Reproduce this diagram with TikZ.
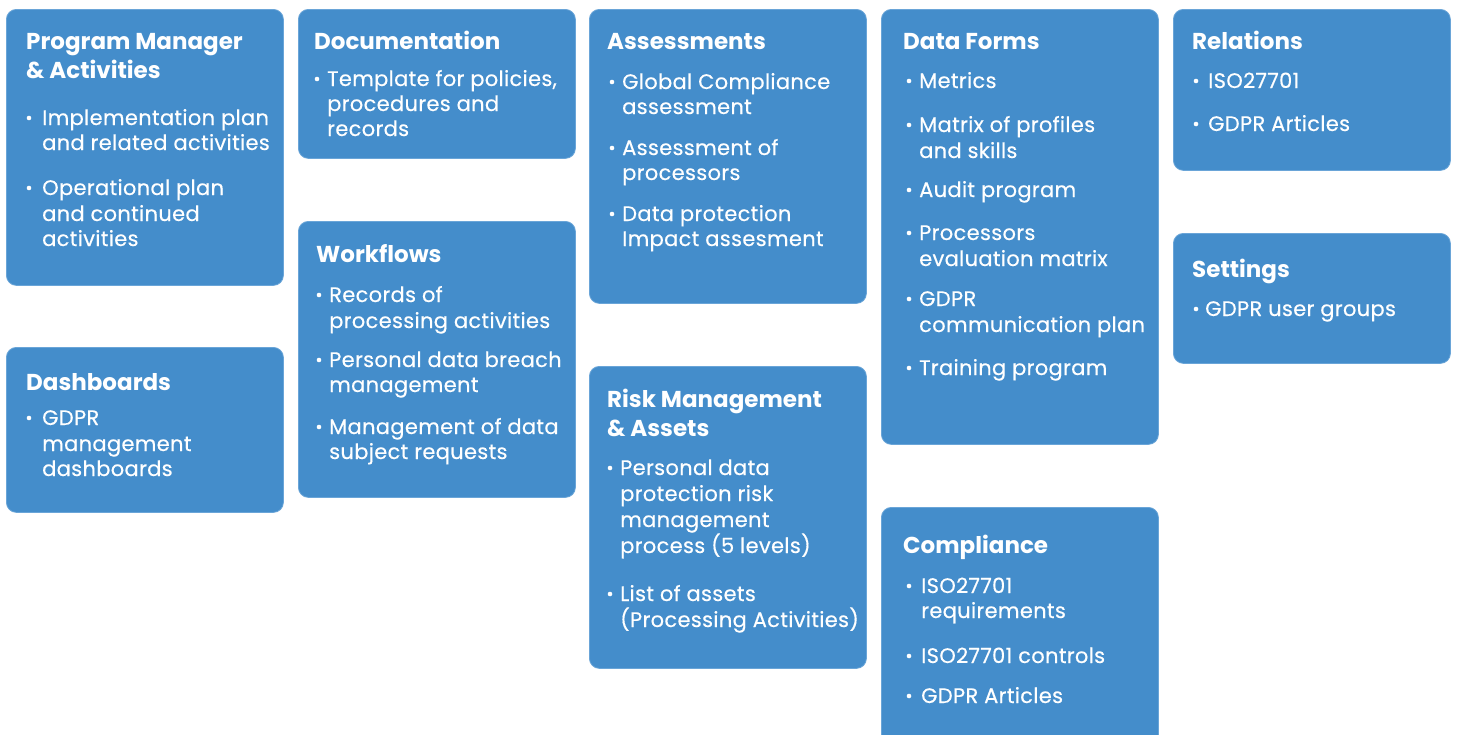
\documentclass[tikz,border=0pt]{standalone}
\usepackage{fontspec}
\setmainfont{Poppins}
\newfontfamily\bodyfont{Poppins}[FakeBold=0.35, LetterSpace=1.5]
\definecolor{boxblue}{HTML}{448DCB}
\definecolor{boxedge}{HTML}{6AA5D8}
\newcommand\tline[4]{\node[ttl] (#1) at (#2,#3) {#4};}
\newcommand\bline[4]{\node[body] (#1) at (#2,#3) {#4};}
\newcommand\bdot[2]{\fill[white] (#1,#2) circle (2.3pt);}
\tikzset{
  box/.style={draw=boxedge, line width=0.8pt, fill=boxblue, rounded corners=10pt, anchor=north west, inner sep=0pt, minimum width=277pt},
  ttl/.style={anchor=base west, inner sep=0pt, text=white, font=\fontsize{23}{23}\selectfont\bfseries},
  body/.style={anchor=base west, inner sep=0pt, text=white, font=\bodyfont\fontsize{21}{21}\selectfont},
}
\begin{document}
\begin{tikzpicture}[x=1pt,y=-1pt]
\useasboundingbox (0,0) rectangle (1458,734);
\clip (0,0) rectangle (1458,734);
\fill[white] (0,0) rectangle (1458,734);
% boxes
\node[box, minimum height=276pt] (b1) at (6,9) {};
\node[box, minimum height=165pt] (b2) at (6,347) {};
\node[box, minimum height=149pt] (b3) at (298,9) {};
\node[box, minimum height=276pt] (b4) at (298,221) {};
\node[box, minimum height=294pt] (b5) at (589,9) {};
\node[box, minimum height=302pt] (b6) at (589,366) {};
\node[box, minimum height=435pt] (b7) at (881,9) {};
\node[box, minimum height=250pt] (b8) at (881,507) {};
\node[box, minimum height=161pt] (b9) at (1173,9) {};
\node[box, minimum height=130pt] (b10) at (1173,233) {};
% b1
\tline{b1t1}{26}{49}{Program Manager}
\tline{b1t2}{26}{78}{\& Activities}
\bdot{29}{118}\bdot{29}{188}
\bline{b1l1}{42}{125}{Implementation plan}
\bline{b1l2}{42}{150}{and related activities}
\bline{b1l3}{42}{195}{Operational plan}
\bline{b1l4}{42}{221}{and continued}
\bline{b1l5}{42}{246}{activities}
% b2
\tline{b2t1}{26}{390}{Dashboards}
\bdot{29}{418}
\bline{b2l1}{42}{425}{GDPR}
\bline{b2l2}{42}{451}{management}
\bline{b2l3}{42}{476}{dashboards}
% b3
\tline{b3t1}{314}{49}{Documentation}
\bdot{317}{79}
\bline{b3l1}{327}{86}{Template for policies,}
\bline{b3l2}{327}{111}{procedures and}
\bline{b3l3}{327}{136}{records}
% b4
\tline{b4t1}{316}{262}{Workflows}
\bdot{319}{295}\bdot{319}{360}\bdot{319}{427}
\bline{b4l1}{329}{302}{Records of}
\bline{b4l2}{329}{328}{processing activities}
\bline{b4l3}{329}{367}{Personal data breach}
\bline{b4l4}{329}{392}{management}
\bline{b4l5}{329}{434}{Management of data}
\bline{b4l6}{329}{459}{subject requests}
% b5
\tline{b5t1}{607}{49}{Assessments}
\bdot{612}{82}\bdot{612}{148}\bdot{612}{214}
\bline{b5l1}{622}{89}{Global Compliance}
\bline{b5l2}{622}{114}{assessment}
\bline{b5l3}{622}{155}{Assessment of}
\bline{b5l4}{622}{180}{processors}
\bline{b5l5}{622}{221}{Data protection}
\bline{b5l6}{622}{246}{Impact assesment}
% b6
\tline{b6t1}{607}{407}{Risk Management}
\tline{b6t2}{607}{436}{\& Assets}
\bdot{610}{468}\bdot{610}{594}
\bline{b6l1}{620}{475}{Personal data}
\bline{b6l2}{620}{501}{protection risk}
\bline{b6l3}{620}{527}{management}
\bline{b6l4}{620}{553}{process (5 levels)}
\bline{b6l5}{620}{601}{List of assets}
\bline{b6l6}{620}{627}{(Processing Activities)}
% b7
\tline{b7t1}{903}{49}{Data Forms}
\bdot{909}{81}\bdot{909}{125}\bdot{909}{190}\bdot{909}{233}\bdot{909}{299}\bdot{909}{368}
\bline{b7l1}{919}{88}{Metrics}
\bline{b7l2}{919}{132}{Matrix of profiles}
\bline{b7l3}{919}{158}{and skills}
\bline{b7l4}{919}{197}{Audit program}
\bline{b7l5}{919}{240}{Processors}
\bline{b7l6}{919}{266}{evaluation matrix}
\bline{b7l7}{919}{306}{GDPR}
\bline{b7l8}{919}{332}{communication plan}
\bline{b7l9}{919}{375}{Training program}
% b8
\tline{b8t1}{903}{553}{Compliance}
\bdot{909}{586}\bdot{909}{656}\bdot{909}{696}
\bline{b8l1}{921}{593}{ISO27701}
\bline{b8l2}{921}{618}{requirements}
\bline{b8l3}{921}{663}{ISO27701 controls}
\bline{b8l4}{921}{703}{GDPR Articles}
% b9
\tline{b9t1}{1192}{49}{Relations}
\bdot{1196}{81}\bdot{1196}{124}
\bline{b9l1}{1208}{88}{ISO27701}
\bline{b9l2}{1208}{131}{GDPR Articles}
% b10
\tline{b10t1}{1192}{277}{Settings}
\bdot{1196}{309}
\bline{b10l1}{1205}{316}{GDPR user groups}
\end{tikzpicture}
\end{document}
